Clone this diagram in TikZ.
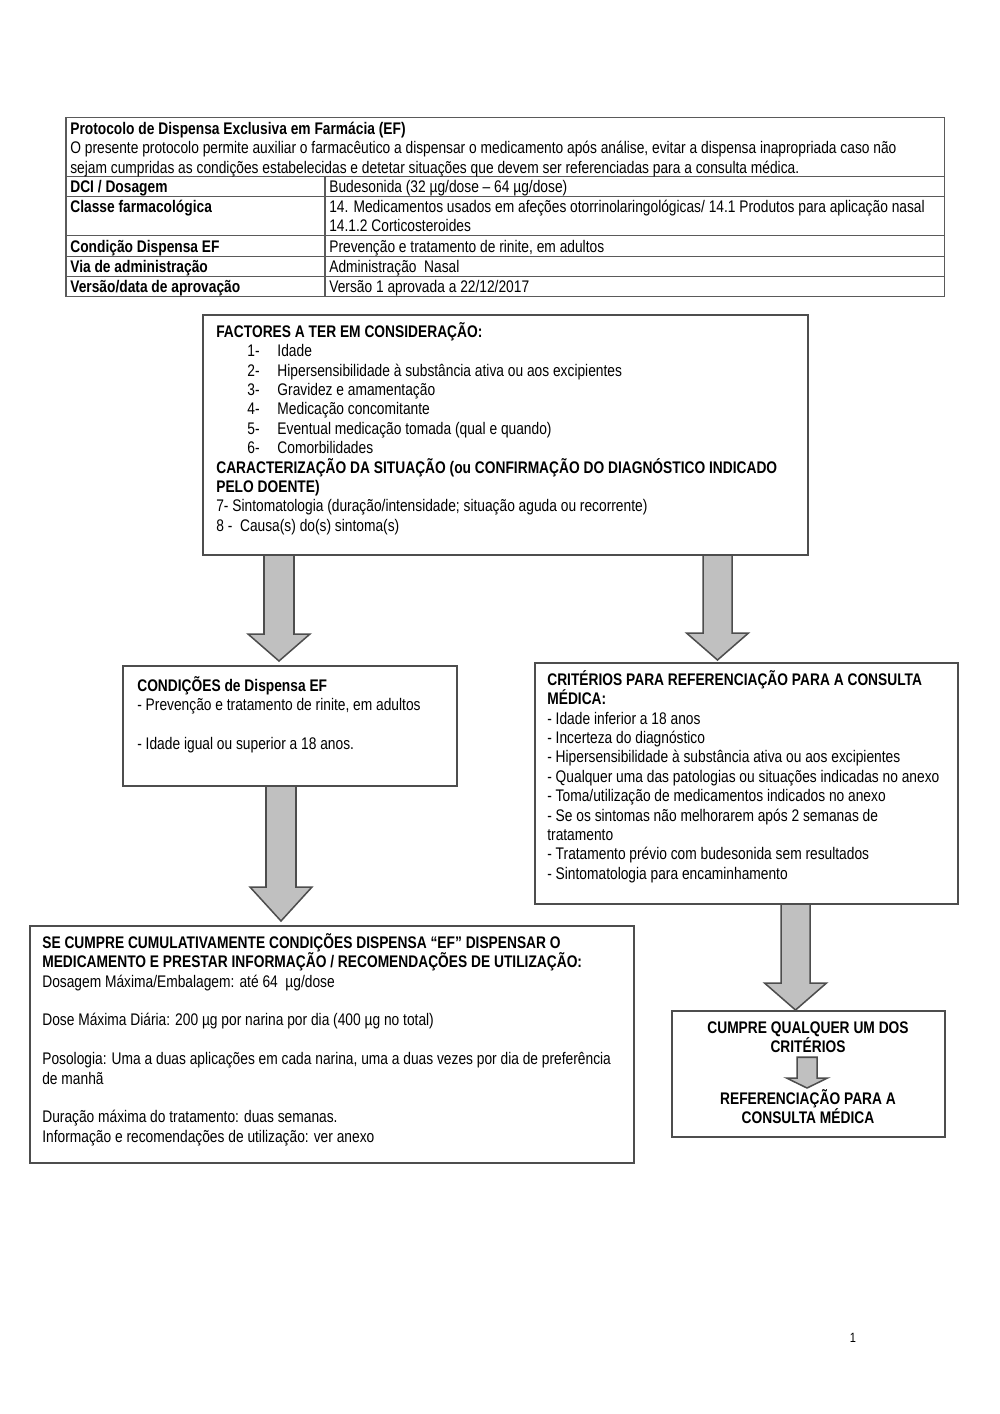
\documentclass[tikz,border=0pt]{standalone}
\usepackage{fontspec}
\setmainfont{Liberation Sans}[FakeStretch=0.82]
\usetikzlibrary{calc}

\definecolor{boxgray}{HTML}{4D4D4D}
\definecolor{arrowgray}{HTML}{C0C0C0}
\definecolor{tablegray}{HTML}{5A5A5A}

\newcommand\tstrut{\rule{0pt}{9.52pt}}
\newcommand\itm[2]{\hspace*{18.5pt}\makebox[17.9pt][l]{#1}#2}
% block arrow: start, tip, shaft half width, head half width, head length
\newcommand\bigarrow[5]{%
  \path (#1) coordinate (bas) (#2) coordinate (bat);
  \draw[blockarrow] ($(bas)+(-#3,0)$) -- ($(bat)+(-#3,-#5)$) -- ($(bat)+(-#4,-#5)$)
    -- (bat) -- ($(bat)+(#4,-#5)$) -- ($(bat)+(#3,-#5)$) -- ($(bas)+(#3,0)$) -- cycle;}

\begin{document}
\begin{tikzpicture}[x=0.5953pt,y=-0.5953pt,line join=miter,
  box/.style={draw=boxgray,line width=1pt,inner sep=0,outer sep=0,anchor=north west},
  boxsize/.style 2 args={minimum width=#1*0.5953pt,minimum height=#2*0.5953pt},
  txt/.style={inner sep=0,anchor=north west,align=left,font=\fontsize{10pt}{11.55pt}\selectfont},
  txtc/.style={inner sep=0,anchor=north,align=center,font=\fontsize{10pt}{11.55pt}\selectfont},
  blockarrow/.style={draw=boxgray,fill=arrowgray,line width=0.9pt},
  grid/.style={draw=tablegray,line width=0.6pt}]
\useasboundingbox (0,0) rectangle (1000,1414);
% ================= header table =================
\draw[grid] (66,117) rectangle (944,296);
\foreach \yy in {176,196,235,256,276}{
  \draw[grid] (66,\yy) -- (944,\yy);}
\draw[grid] (325,176) -- (325,296);
\node[txt] (prot) at (70,118) {\tstrut\textbf{Protocolo de Dispensa Exclusiva em Farmácia (EF)}\\
  O presente protocolo permite auxiliar o farmacêutico a dispensar o medicamento após análise, evitar a dispensa inapropriada caso não\\
  sejam cumpridas as condições estabelecidas e detetar situações que devem ser referenciadas para a consulta médica.};
\node[txt] (dcil) at (70,176) {\tstrut\textbf{DCI / Dosagem}};
\node[txt] (dciv) at (329,176) {\tstrut Budesonida (32 µg/dose – 64 µg/dose)};
\node[txt] (classel) at (70,196) {\tstrut\textbf{Classe farmacológica}};
\node[txt] (classev) at (329,196) {\tstrut 14. Medicamentos usados em afeções otorrinolaringológicas/ 14.1 Produtos para aplicação nasal\\
  14.1.2 Corticosteroides};
\node[txt] (condl) at (70,236) {\tstrut\textbf{Condição Dispensa EF}};
\node[txt] (condv) at (329,236) {\tstrut Prevenção e tratamento de rinite, em adultos};
\node[txt] (vial) at (70,256) {\tstrut\textbf{Via de administração}};
\node[txt] (viav) at (329,256) {\tstrut Administração\ \ Nasal};
\node[txt] (versl) at (70,276) {\tstrut\textbf{Versão/data de aprovação}};
\node[txt] (versv) at (329,276) {\tstrut Versão 1 aprovada a 22/12/2017};
% ================= flow boxes =================
% ---------- factors ----------
\node[box,boxsize={605}{240}] (fac) at (203,315) {};
\node[txt] (factxt) at (216,321) {\tstrut\textbf{FACTORES A TER EM CONSIDERAÇÃO:}\\
  \itm{1-}{Idade}\\
  \itm{2-}{Hipersensibilidade à substância ativa ou aos excipientes}\\
  \itm{3-}{Gravidez e amamentação}\\
  \itm{4-}{Medicação concomitante}\\
  \itm{5-}{Eventual medicação tomada (qual e quando)}\\
  \itm{6-}{Comorbilidades}\\
  \textbf{CARACTERIZAÇÃO DA SITUAÇÃO (ou CONFIRMAÇÃO DO DIAGNÓSTICO INDICADO}\\
  \textbf{PELO DOENTE)}\\
  7- Sintomatologia (duração/intensidade; situação aguda ou recorrente)\\
  8 -\ \ Causa(s) do(s) sintoma(s)};
% ---------- conditions ----------
\node[box,boxsize={334}{120}] (cond) at (123,666) {};
\node[txt] (condtxt) at (137,675) {\tstrut\textbf{CONDIÇÕES de Dispensa EF}\\
  - Prevenção e tratamento de rinite, em adultos\\
  \mbox{}\\
  - Idade igual ou superior a 18 anos.};
% ---------- referral criteria ----------
\node[box,boxsize={423}{241}] (crit) at (535,663) {};
\node[txt] (crittxt) at (547,669) {\tstrut\textbf{CRITÉRIOS PARA REFERENCIAÇÃO PARA A CONSULTA}\\
  \textbf{MÉDICA:}\\
  - Idade inferior a 18 anos\\
  - Incerteza do diagnóstico\\
  - Hipersensibilidade à substância ativa ou aos excipientes\\
  - Qualquer uma das patologias ou situações indicadas no anexo\\
  - Toma/utilização de medicamentos indicados no anexo\\
  - Se os sintomas não melhorarem após 2 semanas de\\
  tratamento\\
  - Tratamento prévio com budesonida sem resultados\\
  - Sintomatologia para encaminhamento};
% ---------- dispense ----------
\node[box,boxsize={604}{237}] (dispensa) at (30,926) {};
\node[txt] (dispensatxt) at (42,932) {\tstrut\textbf{SE CUMPRE CUMULATIVAMENTE CONDIÇÕES DISPENSA “EF” DISPENSAR O}\\
  \textbf{MEDICAMENTO E PRESTAR INFORMAÇÃO / RECOMENDAÇÕES DE UTILIZAÇÃO:}\\
  Dosagem Máxima/Embalagem: até 64\ \ µg/dose\\
  \mbox{}\\
  Dose Máxima Diária: 200 µg por narina por dia (400 µg no total)\\
  \mbox{}\\
  Posologia: Uma a duas aplicações em cada narina, uma a duas vezes por dia de preferência\\
  de manhã\\
  \mbox{}\\
  Duração máxima do tratamento: duas semanas.\\
  Informação e recomendações de utilização: ver anexo};
% ---------- refer ----------
\node[box,boxsize={273}{126}] (cumpre) at (672,1011) {};
\node[txtc] (cumpretxt) at (808,1017) {\tstrut\textbf{CUMPRE QUALQUER UM DOS}\\\textbf{CRITÉRIOS}};
\node[txtc] (reftxt) at (808,1088) {\tstrut\textbf{REFERENCIAÇÃO PARA A}\\\textbf{CONSULTA MÉDICA}};
% ================= arrows =================
\bigarrow{$(fac.south west)+(76,0)$}{$(cond.north west)+(156,-5)$}{15}{31}{27}
\bigarrow{$(fac.south west)+(514.5,0)$}{$(crit.north west)+(182.5,-3)$}{14.5}{31}{27}
\bigarrow{$(cond.south west)+(158,0)$}{$(dispensa.north west)+(251,-5)$}{15}{31}{34}
\bigarrow{$(crit.south west)+(260.5,0)$}{$(cumpre.north west)+(123.5,-1)$}{14.5}{31}{27}
\bigarrow{$(cumpretxt.south)+(-1,4)$}{$(reftxt.north)+(-1,0)$}{10}{20.5}{10}
% page number
\node[inner sep=0,font=\fontsize{8pt}{9pt}\selectfont] (pgno) at (853,1338) {1};
\end{tikzpicture}
\end{document}
